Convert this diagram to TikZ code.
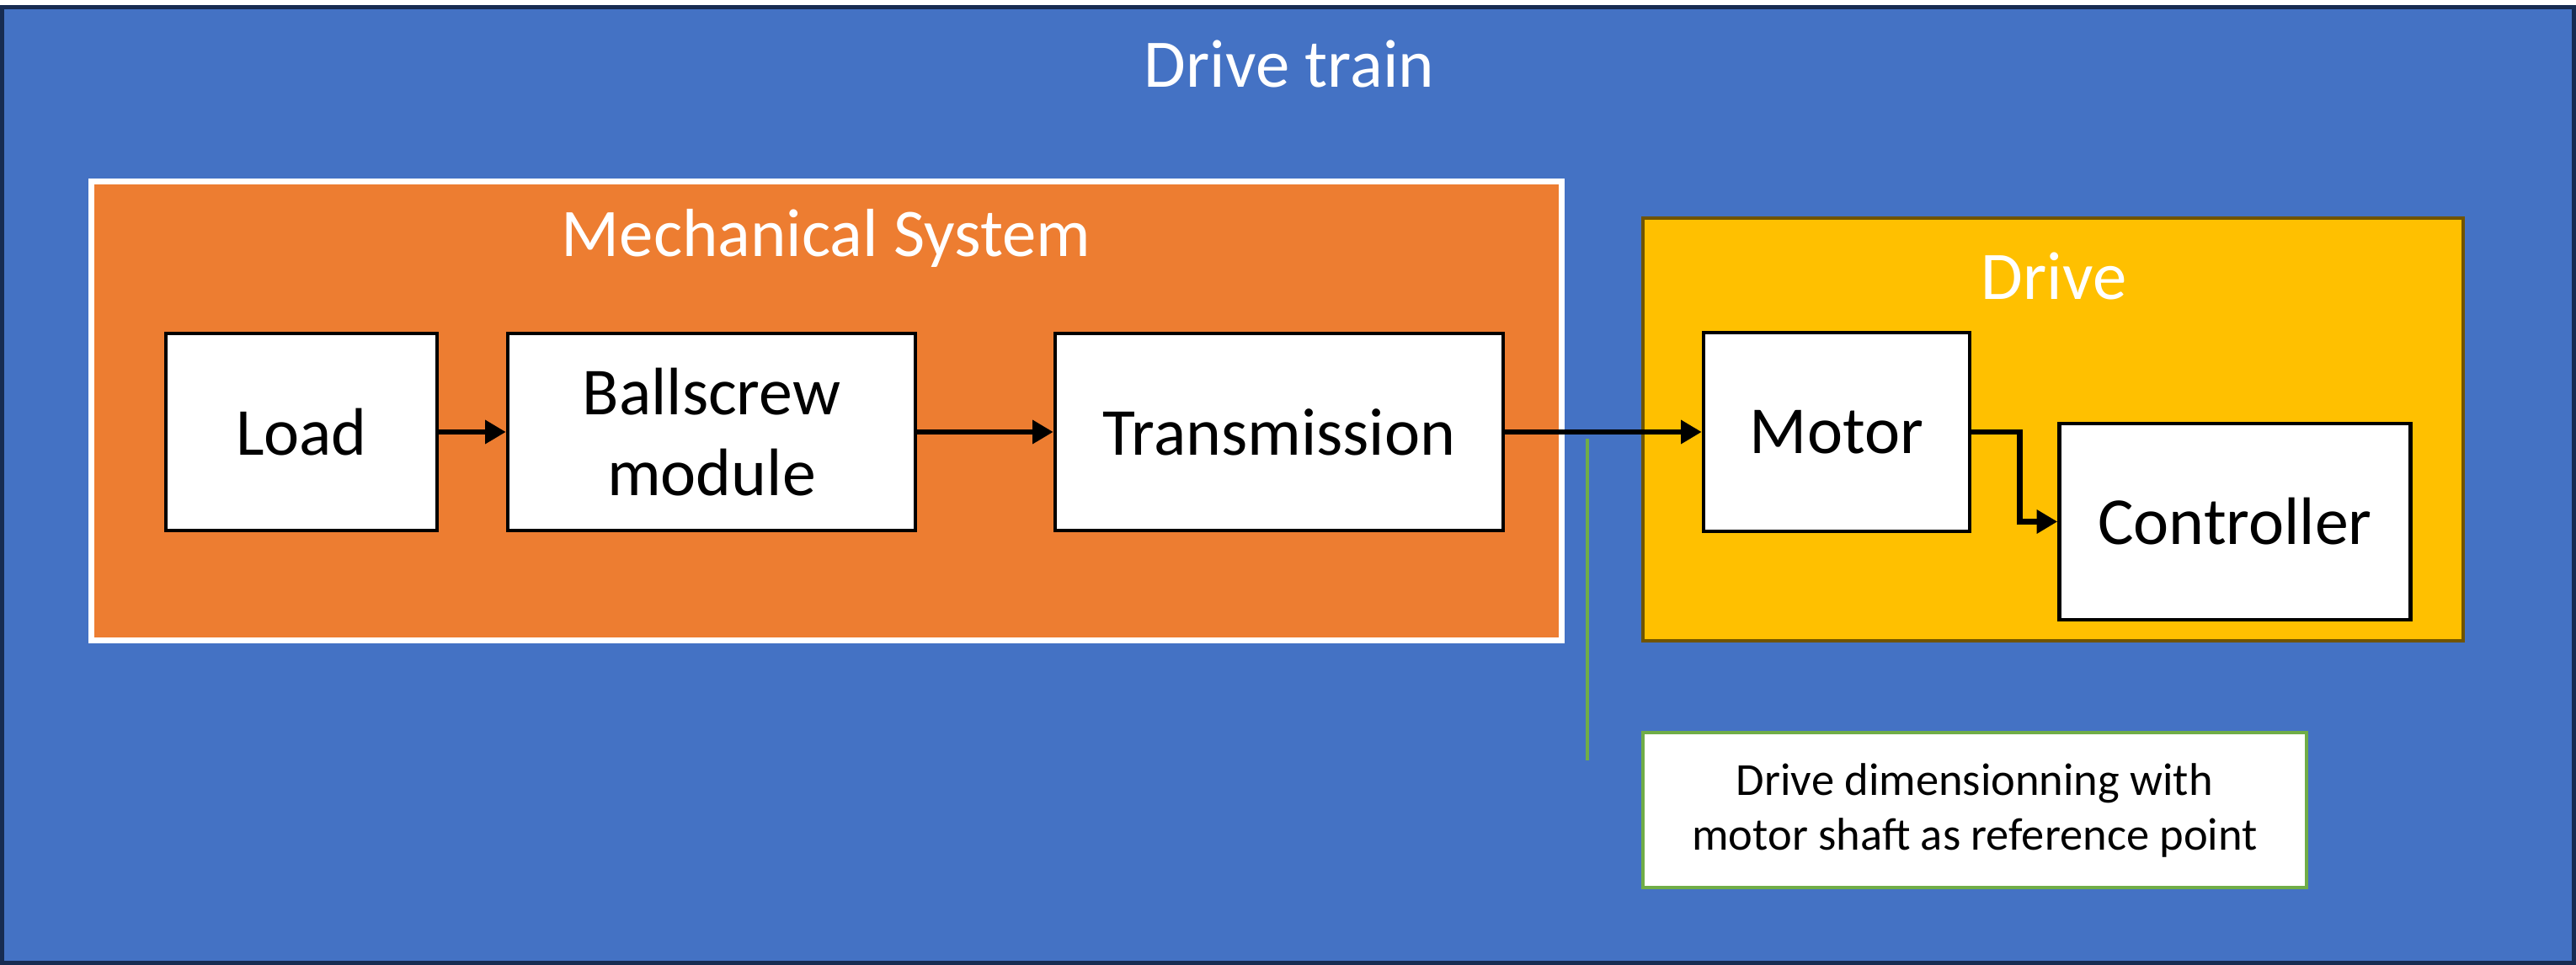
\documentclass[tikz,border=0pt]{standalone}
\usepackage{xcolor}
\usepackage{tikz}
\usepackage{fontspec}
\setmainfont{Carlito}
\usetikzlibrary{positioning, arrows.meta}
\definecolor{trainblue}{RGB}{68,114,196}
\definecolor{trainnavy}{RGB}{23,44,82}
\definecolor{mechorange}{RGB}{237,125,49}
\definecolor{drivegold}{RGB}{255,192,0}
\definecolor{drivebrown}{RGB}{112,84,0}
\definecolor{notegreen}{RGB}{112,173,71}

\tikzset{
    block/.style={draw=black, fill=white, line width=1.3pt, minimum height=2.34cm,
        align=center, font=\fontsize{22.7}{27.5}\selectfont},
    title/.style={white, font=\fontsize{23}{27}\selectfont},
    flow/.style={-{Triangle[length=7pt, width=7.7pt]}, line width=1.9pt, black}
}

\begin{document}
\begin{tikzpicture}
    \useasboundingbox (0,0) rectangle (30.59,11.46);

    % Drive train frame
    \draw[fill=trainblue, draw=trainnavy, line width=1.42pt]
        (0.025,0.025) rectangle (30.565,11.375);
    \node[title] (train) at (15.31,10.70) {Drive train};

    % Mechanical system
    \draw[fill=mechorange, draw=white, line width=2pt]
        (1.085,3.855) rectangle (18.545,9.305);
    \node[title] (mech) at (9.81,8.63) {Mechanical System};
    \node[block, minimum width=3.22cm] (load) at (3.58,6.33) {Load};
    \node[block, minimum width=4.84cm] (ballscrew) at (8.45,6.33) {Ballscrew\\module};
    \node[block, minimum width=5.32cm] (transmission) at (15.19,6.33) {Transmission};

    % Drive
    \draw[fill=drivegold, draw=drivebrown, line width=1.2pt]
        (19.51,3.85) rectangle (29.25,8.87);
    \node[title] (drive) at (24.39,8.18) {Drive};
    \node[block, minimum width=3.16cm, minimum height=2.36cm] (motor) at (21.81,6.33) {Motor};
    \node[block, minimum width=4.17cm, minimum height=2.33cm] (controller) at (26.54,5.265) {Controller};

    % Connections
    \draw[flow] (load) -- (ballscrew);
    \draw[flow] (ballscrew) -- (transmission);
    \draw[flow] (transmission) -- (motor);
    \draw[flow] (motor.east) -- ++(0.57,0) |- (controller.west);

    % Reference point
    \coordinate (shafttop) at (18.85,6.25);
    \coordinate (shaftfoot) at (18.85,2.43);
    \draw[notegreen, line width=0.9pt] (shafttop) -- (shaftfoot);
    \node[draw=notegreen, fill=white, line width=1pt, minimum width=7.88cm, minimum height=1.84cm,
        align=center, font=\fontsize{15.5}{18.5}\selectfont] (note) at (23.45,1.84)
        {Drive dimensionning with\\motor shaft as reference point};
\end{tikzpicture}
\end{document}
